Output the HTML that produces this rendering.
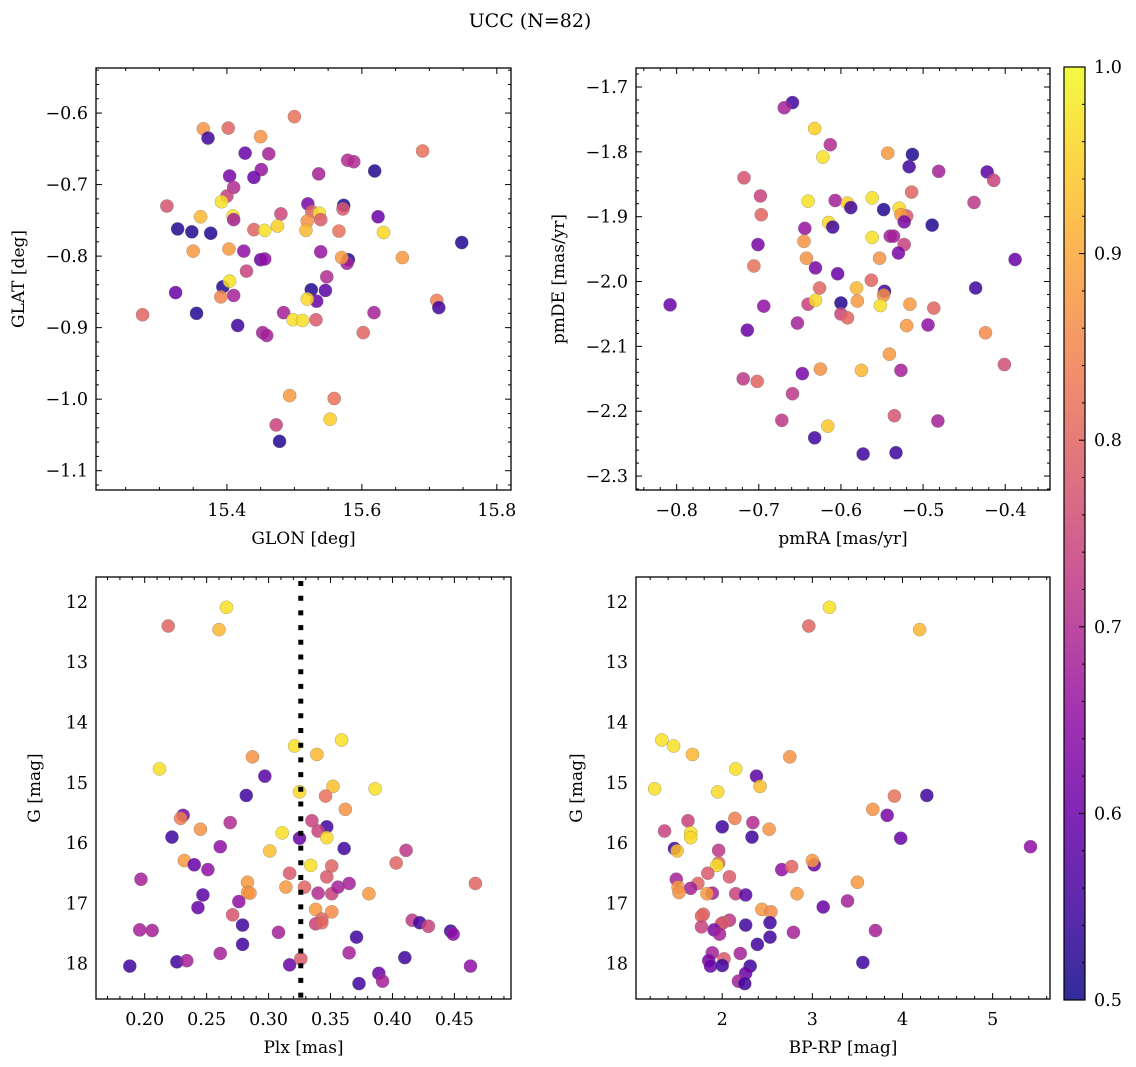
<!DOCTYPE html>
<html><head><meta charset="utf-8"><style>
body{margin:0;background:#fff;width:1136px;height:1067px;overflow:hidden}
svg{display:block;font-family:"DejaVu Serif","Liberation Serif",serif}
</style></head><body>
<svg id="fig" width="1136" height="1067" viewBox="0 0 1136 1067" xmlns="http://www.w3.org/2000/svg">
<text x="530" y="27" font-size="19" text-anchor="middle">UCC (N=82)</text>
</svg>
<script>
// Panel 1: GLON vs GLAT
const p1x=[15.500,15.365,15.372,15.402,15.450,15.427,15.462,15.579,15.588,15.690,15.619,15.536,15.404,15.451,15.440,15.410,15.400,15.392,15.311,15.520,15.573,15.572,15.409,15.410,15.361,15.480,15.526,15.537,15.539,15.519,15.624,15.327,15.348,15.376,15.440,15.456,15.475,15.517,15.566,15.632,15.748,15.350,15.403,15.425,15.450,15.456,15.539,15.580,15.578,15.570,15.660,15.429,15.548,15.324,15.394,15.404,15.410,15.391,15.525,15.546,15.533,15.519,15.711,15.714,15.275,15.355,15.484,15.498,15.512,15.532,15.618,15.416,15.453,15.459,15.602,15.493,15.559,15.553,15.473,15.478];
const p1y=[-0.605,-0.622,-0.635,-0.621,-0.633,-0.656,-0.657,-0.666,-0.668,-0.653,-0.681,-0.685,-0.688,-0.679,-0.690,-0.704,-0.716,-0.724,-0.730,-0.727,-0.729,-0.734,-0.744,-0.749,-0.745,-0.741,-0.738,-0.740,-0.749,-0.751,-0.745,-0.762,-0.766,-0.768,-0.763,-0.764,-0.758,-0.764,-0.765,-0.767,-0.781,-0.793,-0.790,-0.793,-0.805,-0.804,-0.794,-0.805,-0.810,-0.802,-0.802,-0.821,-0.829,-0.851,-0.843,-0.835,-0.855,-0.857,-0.847,-0.848,-0.863,-0.860,-0.862,-0.872,-0.882,-0.880,-0.879,-0.889,-0.890,-0.889,-0.879,-0.897,-0.907,-0.911,-0.907,-0.995,-0.999,-1.028,-1.036,-1.059];
const p1c=[0.82,0.87,0.55,0.80,0.87,0.6,0.68,0.7,0.7,0.82,0.52,0.68,0.62,0.66,0.6,0.7,0.74,0.97,0.77,0.62,0.52,0.78,0.97,0.68,0.92,0.75,0.8,0.97,0.78,0.87,0.6,0.52,0.52,0.52,0.8,0.97,0.95,0.92,0.82,0.96,0.52,0.88,0.88,0.65,0.6,0.65,0.66,0.52,0.68,0.88,0.88,0.74,0.7,0.6,0.52,0.97,0.68,0.85,0.52,0.58,0.6,0.96,0.84,0.55,0.8,0.52,0.68,0.97,0.97,0.78,0.68,0.55,0.68,0.68,0.8,0.88,0.82,0.95,0.74,0.52];
// Panel 2: pmRA vs pmDE
const p2x=[-0.659,-0.669,-0.632,-0.613,-0.622,-0.543,-0.513,-0.517,-0.481,-0.422,-0.414,-0.718,-0.698,-0.514,-0.438,-0.640,-0.607,-0.592,-0.588,-0.562,-0.548,-0.529,-0.520,-0.527,-0.523,-0.697,-0.489,-0.615,-0.610,-0.644,-0.562,-0.540,-0.536,-0.523,-0.530,-0.701,-0.645,-0.642,-0.553,-0.388,-0.706,-0.631,-0.604,-0.563,-0.436,-0.626,-0.581,-0.547,-0.548,-0.808,-0.694,-0.640,-0.631,-0.600,-0.580,-0.552,-0.516,-0.487,-0.600,-0.592,-0.653,-0.494,-0.520,-0.424,-0.714,-0.541,-0.401,-0.625,-0.575,-0.527,-0.647,-0.719,-0.702,-0.659,-0.535,-0.482,-0.672,-0.616,-0.632,-0.573,-0.533];
const p2y=[-1.724,-1.732,-1.764,-1.789,-1.808,-1.802,-1.804,-1.823,-1.830,-1.831,-1.844,-1.840,-1.868,-1.862,-1.878,-1.876,-1.875,-1.879,-1.886,-1.871,-1.889,-1.887,-1.899,-1.897,-1.908,-1.897,-1.913,-1.909,-1.916,-1.918,-1.932,-1.930,-1.930,-1.943,-1.956,-1.943,-1.938,-1.964,-1.964,-1.966,-1.976,-1.979,-1.988,-1.998,-2.010,-2.010,-2.010,-2.015,-2.021,-2.036,-2.038,-2.035,-2.029,-2.033,-2.030,-2.037,-2.035,-2.041,-2.050,-2.056,-2.064,-2.067,-2.068,-2.079,-2.075,-2.112,-2.128,-2.135,-2.137,-2.137,-2.142,-2.150,-2.154,-2.173,-2.207,-2.215,-2.214,-2.223,-2.241,-2.266,-2.264];
const p2c=[0.55,0.68,0.95,0.7,0.97,0.88,0.52,0.55,0.68,0.58,0.74,0.77,0.74,0.8,0.72,0.97,0.68,0.95,0.55,0.97,0.52,0.96,0.78,0.88,0.62,0.8,0.52,0.96,0.55,0.66,0.97,0.68,0.68,0.74,0.62,0.62,0.87,0.87,0.87,0.6,0.82,0.62,0.6,0.8,0.55,0.8,0.92,0.55,0.86,0.6,0.65,0.74,0.96,0.52,0.88,0.97,0.88,0.8,0.74,0.8,0.68,0.65,0.88,0.86,0.6,0.88,0.76,0.87,0.92,0.68,0.62,0.72,0.8,0.72,0.77,0.68,0.72,0.94,0.55,0.55,0.55];
// Panel 3: Plx vs G
const p3x=[0.266,0.219,0.260,0.321,0.359,0.339,0.287,0.212,0.297,0.325,0.352,0.386,0.346,0.282,0.362,0.231,0.229,0.269,0.245,0.335,0.347,0.340,0.347,0.222,0.311,0.325,0.261,0.361,0.301,0.411,0.403,0.232,0.240,0.251,0.334,0.351,0.317,0.347,0.197,0.283,0.314,0.329,0.340,0.351,0.356,0.365,0.381,0.467,0.283,0.285,0.247,0.276,0.243,0.338,0.351,0.271,0.279,0.343,0.338,0.343,0.416,0.422,0.429,0.447,0.449,0.196,0.206,0.308,0.371,0.279,0.261,0.365,0.410,0.226,0.234,0.188,0.317,0.326,0.463,0.389,0.392,0.373];
const p3y=[12.09,12.40,12.46,14.39,14.29,14.53,14.57,14.77,14.89,15.15,15.06,15.10,15.22,15.21,15.44,15.54,15.59,15.66,15.77,15.63,15.73,15.80,15.91,15.90,15.83,15.92,16.06,16.09,16.13,16.12,16.33,16.29,16.36,16.44,16.37,16.38,16.50,16.56,16.60,16.65,16.73,16.73,16.83,16.84,16.73,16.67,16.84,16.67,16.82,16.83,16.86,16.97,17.07,17.10,17.14,17.19,17.36,17.26,17.34,17.32,17.28,17.32,17.38,17.46,17.51,17.44,17.45,17.48,17.56,17.68,17.83,17.82,17.90,17.97,17.95,18.04,18.02,17.92,18.04,18.16,18.29,18.33];
const p3c=[0.97,0.8,0.92,0.97,0.97,0.92,0.87,0.97,0.58,0.96,0.93,0.97,0.82,0.55,0.87,0.62,0.84,0.7,0.87,0.74,0.55,0.74,0.96,0.55,0.97,0.6,0.65,0.55,0.93,0.72,0.8,0.88,0.6,0.65,0.97,0.8,0.78,0.78,0.68,0.88,0.88,0.8,0.7,0.74,0.68,0.68,0.88,0.8,0.88,0.87,0.58,0.65,0.6,0.88,0.86,0.77,0.55,0.8,0.74,0.8,0.72,0.55,0.74,0.55,0.65,0.68,0.68,0.68,0.55,0.55,0.68,0.68,0.55,0.55,0.68,0.55,0.6,0.78,0.65,0.6,0.68,0.55];
// Panel 4: BP-RP vs G
const p4x=[3.19,2.96,4.19,1.33,1.46,1.67,2.75,2.15,2.38,1.25,2.42,1.95,3.91,4.27,3.67,3.83,2.14,1.62,2.34,2.00,2.52,1.36,1.65,1.65,2.33,3.98,1.47,1.50,1.96,5.42,1.96,1.94,3.02,3.00,2.66,2.77,1.84,2.08,1.49,3.50,1.51,1.73,1.65,1.89,1.83,2.15,2.26,1.52,2.83,3.39,3.12,2.44,2.54,1.79,1.77,2.08,2.01,1.99,2.53,2.26,1.77,3.70,2.79,1.91,1.97,2.53,2.39,1.89,2.20,1.85,2.02,1.87,2.00,3.56,2.31,2.26,2.18,2.25];
const p4y=[12.09,12.40,12.46,14.29,14.39,14.53,14.57,14.77,14.89,15.10,15.06,15.15,15.22,15.21,15.44,15.54,15.59,15.63,15.66,15.73,15.77,15.80,15.83,15.91,15.90,15.92,16.09,16.13,16.12,16.06,16.33,16.37,16.36,16.29,16.44,16.39,16.50,16.56,16.60,16.65,16.73,16.67,16.75,16.83,16.84,16.84,16.86,16.82,16.84,16.96,17.06,17.10,17.14,17.18,17.21,17.28,17.32,17.34,17.32,17.36,17.39,17.45,17.48,17.44,17.51,17.56,17.68,17.82,17.83,17.95,17.92,18.04,18.03,17.98,18.04,18.16,18.29,18.33];
const p4c=[0.97,0.8,0.92,0.97,0.97,0.92,0.87,0.97,0.58,0.97,0.93,0.96,0.82,0.55,0.87,0.62,0.84,0.74,0.7,0.55,0.87,0.74,0.97,0.96,0.55,0.6,0.55,0.93,0.72,0.65,0.8,0.97,0.6,0.88,0.65,0.8,0.78,0.78,0.68,0.88,0.88,0.8,0.68,0.68,0.88,0.74,0.58,0.87,0.88,0.68,0.6,0.88,0.86,0.8,0.8,0.72,0.8,0.77,0.55,0.55,0.74,0.68,0.68,0.62,0.68,0.55,0.55,0.68,0.68,0.62,0.78,0.6,0.55,0.55,0.55,0.6,0.68,0.55];
const xTicks1=["15.4","15.6","15.8"], yTicks1=["−0.6","−0.7","−0.8","−0.9","−1.0","−1.1"];
const xTicks2=["−0.8","−0.7","−0.6","−0.5","−0.4"], yTicks2=["−1.7","−1.8","−1.9","−2.0","−2.1","−2.2","−2.3"];
const xTicks3=["0.20","0.25","0.30","0.35","0.40","0.45"], yTicks34=["12","13","14","15","16","17","18"];
const xTicks4=["2","3","4","5"];
const cbTicks=["0.5","0.6","0.7","0.8","0.9","1.0"];
const plxLine=[0.326];

const NS="http://www.w3.org/2000/svg";
const svg=document.getElementById('fig');
function mk(tag,attrs,parent){const e=document.createElementNS(NS,tag);for(const k in attrs)e.setAttribute(k,attrs[k]);(parent||svg).appendChild(e);return e;}
const stops=["#0d0887","#41049d","#6a00a8","#8f0da4","#b12a90","#cc4778","#e16462","#f2844b","#fca636","#fcce25","#f0f921"];
function hx(h){return [1,3,5].map(i=>parseInt(h.substr(i,2),16));}
function plasma(t){t=Math.max(0,Math.min(1,t));const f=t*10,i=Math.min(9,Math.floor(f)),r=f-i;const a=hx(stops[i]),b=hx(stops[i+1]);return 'rgb('+a.map((v,k)=>Math.round(v+(b[k]-v)*r)).join(',')+')';}
function cmap(c){return plasma((c-0.5)/0.5);}
const num=s=>parseFloat(s.replace('−','-'));

function panel(o){
  const g=mk('g',{});
  
  
  const sx=v=>o.x0+(v-o.xmin)/(o.xmax-o.xmin)*(o.x1-o.x0);
  const sy=v=>o.y1-(v-o.ymin)/(o.ymax-o.ymin)*(o.y1-o.y0);
  const pg=mk('g',{},g);
  
  
  for(let i=0;i<o.xs.length;i++){
    const c=mk('circle',{cx:sx(o.xs[i]),cy:sy(o.ys[i]),r:6.6,fill:cmap(o.cs[i]),'fill-opacity':0.85,stroke:'#777','stroke-opacity':0.6,'stroke-width':0.5},pg);
    
    
  }
  if(o.vline){
    const l=mk('line',{x1:sx(o.vline[0]),x2:sx(o.vline[0]),y1:o.y0+4,y2:o.y1,stroke:'#000','stroke-width':5,'stroke-dasharray':'5 9.7'},g);
    
    
  }
  const tg=mk('g',{stroke:'#000','stroke-width':1},g);
  
  
  const lo=Math.ceil(o.xmin/o.xminor-1e-6),hi=Math.floor(o.xmax/o.xminor+1e-6);
  for(let k=lo;k<=hi;k++){const v=k*o.xminor,x=sx(v);const maj=Math.abs(v/o.xmajor-Math.round(v/o.xmajor))<1e-4;const L=maj?6:3;
    mk('line',{x1:x,x2:x,y1:o.y1,y2:o.y1-L},tg);mk('line',{x1:x,x2:x,y1:o.y0,y2:o.y0+L},tg);}
  const lo2=Math.ceil(o.ymin/o.yminor-1e-6),hi2=Math.floor(o.ymax/o.yminor+1e-6);
  for(let k=lo2;k<=hi2;k++){const v=k*o.yminor,y=sy(v);const maj=Math.abs(v/o.ymajor-Math.round(v/o.ymajor))<1e-4;const L=maj?6:3;
    mk('line',{x1:o.x0,x2:o.x0+L,y1:y,y2:y},tg);mk('line',{x1:o.x1,x2:o.x1-L,y1:y,y2:y},tg);}
  o.xt.forEach(s=>{const t=mk('text',{x:sx(num(s)),y:o.y1+26,'font-size':17.5,'text-anchor':'middle'},g);t.textContent=s;
    
    });
  o.yt.forEach(s=>{const t=mk('text',{x:o.x0-8,y:sy(num(s))+6,'font-size':17.5,'text-anchor':'end'},g);t.textContent=s;
    
    });
  const fr=mk('rect',{x:o.x0,y:o.y0,width:o.x1-o.x0,height:o.y1-o.y0,fill:'none',stroke:'#000','stroke-width':1.3},g);
  
  
  const xl=mk('text',{x:(o.x0+o.x1)/2,y:o.y1+54,'font-size':17,'text-anchor':'middle'},g);xl.textContent=o.xlab;
  
  
  const cy=(o.y0+o.y1)/2;
  const yl=mk('text',{x:o.ylx,y:cy,'font-size':17,'text-anchor':'middle',transform:'rotate(-90 '+o.ylx+' '+cy+')'},g);yl.textContent=o.ylab;
  
  
}
panel({name:'glon-glat-panel',x0:96,x1:511,y0:68,y1:490,xmin:15.206,xmax:15.821,ymin:-1.127,ymax:-0.537,xmajor:0.2,xminor:0.05,ymajor:0.1,yminor:0.02,xs:p1x,ys:p1y,cs:p1c,xt:xTicks1,yt:yTicks1,xlab:'GLON [deg]',ylab:'GLAT [deg]',ylx:24});
panel({name:'pm-panel',x0:636,x1:1050,y0:68,y1:490,xmin:-0.8495,xmax:-0.3455,ymin:-2.3215,ymax:-1.6707,xmajor:0.1,xminor:0.02,ymajor:0.1,yminor:0.02,xs:p2x,ys:p2y,cs:p2c,xt:xTicks2,yt:yTicks2,xlab:'pmRA [mas/yr]',ylab:'pmDE [mas/yr]',ylx:564});
panel({name:'plx-g-panel',x0:96,x1:511,y0:577,y1:999,xmin:0.1607,xmax:0.4957,ymin:18.586,ymax:11.587,xmajor:0.05,xminor:0.01,ymajor:1,yminor:0.2,xs:p3x,ys:p3y,cs:p3c,xt:xTicks3,yt:yTicks34,xlab:'Plx [mas]',ylab:'G [mag]',ylx:40,vline:plxLine});
panel({name:'cmd-panel',x0:636,x1:1050,y0:577,y1:999,xmin:1.0433,xmax:5.6364,ymin:18.586,ymax:11.587,xmajor:1,xminor:0.2,ymajor:1,yminor:0.2,xs:p4x,ys:p4y,cs:p4c,xt:xTicks4,yt:yTicks34,xlab:'BP-RP [mag]',ylab:'G [mag]',ylx:582});

const cb=mk('g',{});


const defs=mk('defs',{},cb);
const lg=mk('linearGradient',{id:'pl',x1:0,y1:1,x2:0,y2:0},defs);
stops.forEach((s,i)=>mk('stop',{offset:i/10,'stop-color':s},lg));
const cx0=1064,cx1=1085,cy0=67,cy1=1000;
mk('rect',{x:cx0,y:cy0,width:cx1-cx0,height:cy1-cy0,fill:'url(#pl)','fill-opacity':0.85,stroke:'#000','stroke-width':1.2},cb);
const cbs=v=>cy1-(v-0.5)/0.5*(cy1-cy0);
for(let k=25;k<=50;k++){const v=k*0.02,y=cbs(v);const maj=(k%5===0);mk('line',{x1:cx1,x2:cx1-(maj?6:3),y1:y,y2:y,stroke:'#000','stroke-width':1},cb);}
cbTicks.forEach(s=>{const t=mk('text',{x:1094,y:cbs(num(s))+6,'font-size':17.5},cb);t.textContent=s;
  
  });
</script>
</body></html>
